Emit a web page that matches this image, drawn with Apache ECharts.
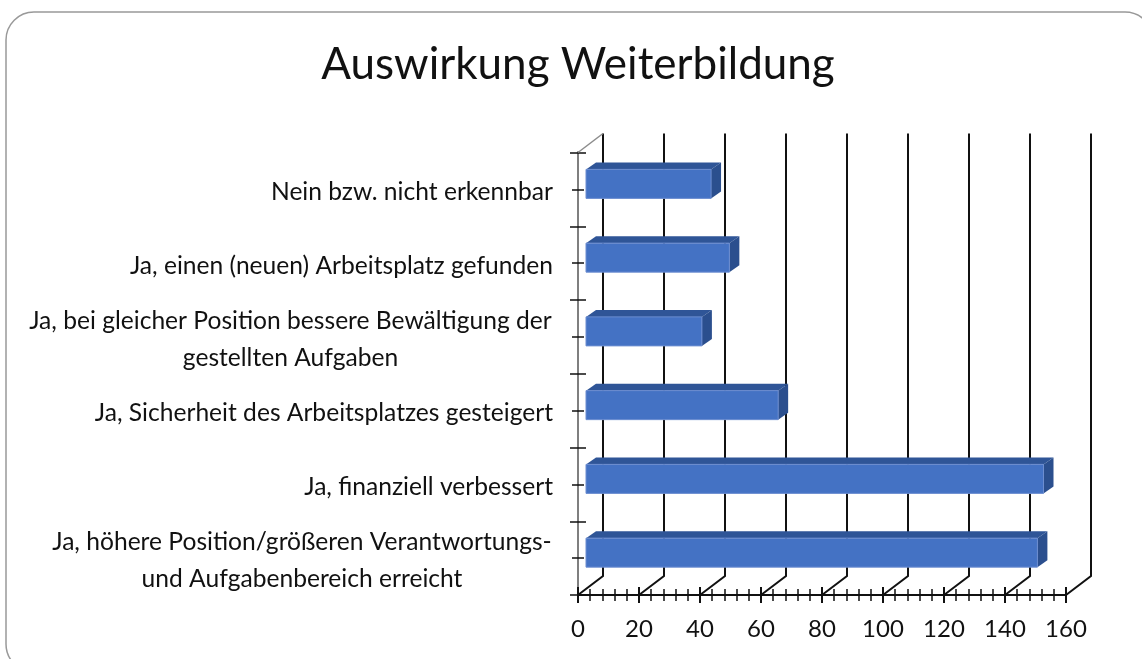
<!DOCTYPE html>
<html>
<head>
<meta charset="utf-8">
<style>
  html, body { margin: 0; padding: 0; background: #fff; }
  #chart { width: 1142px; height: 659px; }
</style>
<script src="https://cdn.jsdelivr.net/npm/echarts@6/dist/echarts.min.js"></script>
</head>
<body>
<div id="chart"></div>
<script>
const categories = [
  "Ja, höhere Position/größeren Verantwortungs-\nund Aufgabenbereich erreicht",
  "Ja, finanziell verbessert",
  "Ja, Sicherheit des Arbeitsplatzes gesteigert",
  "Ja, bei gleicher Position bessere Bewältigung der\ngestellten Aufgaben",
  "Ja, einen (neuen) Arbeitsplatz gefunden",
  "Nein bzw. nicht erkennbar"
];
const values = [148, 150, 63, 38, 47, 41];
const gridValues = [0, 20, 40, 60, 80, 100, 120, 140, 160];

const fontName = "Lato, sans-serif";
const depthX = 25, depthY = 19;

// back wall: diagonal from the floor, then the vertical line
function renderGridLine(params, api) {
  const rect = params.coordSys;
  const value = api.value(0);
  const x = api.coord([value, 0])[0];
  const bottom = rect.y + rect.height;
  const children = [{
    type: "polyline",
    shape: { points: [[x, bottom], [x + depthX, bottom - depthY], [x + depthX, rect.y - depthY]] },
    style: { fill: null, stroke: "#111", lineWidth: 2 }
  }];
  // grey edge of the side wall, only at the origin
  if (value === 0) {
    children.push({
      type: "line",
      shape: { x1: x, y1: rect.y, x2: x + depthX, y2: rect.y - depthY },
      style: { stroke: "#8C8C8C", lineWidth: 1.5 }
    });
  }
  return { type: "group", children: children, silent: true };
}

// box shaped bar: front, top and side faces
function renderBar(params, api) {
  const end = api.coord([api.value(0), api.value(1)]);
  const start = api.coord([0, api.value(1)]);
  const left = start[0] + 8, right = end[0] + 8;
  const top = end[1] - 20, bottom = top + 29;
  const dx = 10, dy = 7;
  return {
    type: "group",
    children: [
      { type: "polygon", shape: { points: [[left, top], [left + dx, top - dy], [right + dx, top - dy], [right, top]] },
        style: { fill: "#2F5597" } },
      { type: "polygon", shape: { points: [[right, top], [right + dx, top - dy], [right + dx, bottom - dy], [right, bottom]] },
        style: { fill: "#2B4F8E" } },
      { type: "rect", shape: { x: left, y: top, width: right - left, height: bottom - top },
        style: { fill: "#4472C4", stroke: "#6C8DD0", lineWidth: 1 } }
    ]
  };
}

const categoryAxis = (extra) => Object.assign({
  type: "category",
  position: "left",
  data: categories,
  axisLine: { show: true, lineStyle: { color: "#7F7F7F", width: 2 } },
  axisLabel: { show: false },
  splitLine: { show: false }
}, extra);

const valueAxis = (extra) => Object.assign({
  type: "value",
  position: "bottom",
  min: 0,
  max: 160,
  interval: 20,
  axisLine: { show: true, lineStyle: { color: "#111", width: 2 } },
  splitLine: { show: false },
  minorSplitLine: { show: false }
}, extra);

// two line labels are centred inside their own block
const labelStyle = { align: "center", fontFamily: fontName, fontSize: 24.6, lineHeight: 37, color: "#111" };

const chart = echarts.init(document.getElementById("chart"), null, { renderer: "canvas" });
chart.setOption({
  animation: false,
  backgroundColor: "#fff",
  title: {
    text: "Auswirkung Weiterbildung",
    left: 573,
    top: 38,
    textAlign: "center",
    textStyle: { fontFamily: fontName, fontSize: 44, fontWeight: "normal", color: "#111" }
  },
  graphic: [{
    type: "rect",
    shape: { x: 6, y: 12, width: 1147, height: 660, r: 28 },
    style: { fill: null, stroke: "#999", lineWidth: 1.5 },
    silent: true
  }],
  grid: { left: 578, right: 76, top: 152.5, height: 442.5 },
  xAxis: [
    valueAxis({
      axisTick: { show: true, length: 8, lineStyle: { color: "#111", width: 2 } },
      minorTick: { show: true, splitNumber: 5, length: 6, lineStyle: { color: "#111", width: 1.5 } },
      axisLabel: { fontFamily: fontName, fontSize: 24, color: "#111", margin: 22 }
    }),
    valueAxis({
      axisTick: { show: true, inside: true, length: 8, lineStyle: { color: "#111", width: 2 } },
      minorTick: { show: true, splitNumber: 5, length: 6, lineStyle: { color: "#111", width: 1.5 } },
      axisLabel: { show: false }
    })
  ],
  yAxis: [
    categoryAxis({
      axisTick: { show: true, length: 8, lineStyle: { color: "#111", width: 1.5 } },
      axisLabel: {
        show: true,
        margin: 25,
        padding: [5, 0, 0, 0],
        fontFamily: fontName,
        fontSize: 24.6,
        lineHeight: 37,
        color: "#111",
        formatter: (v, i) => {
          if (!v.includes("\n")) return v;
          const name = i === 3 ? "long" : "short";
          return v.split("\n").map((s) => "{" + name + "|" + s + "}").join("\n");
        },
        rich: {
          short: Object.assign({ width: 502 }, labelStyle),
          long: Object.assign({ width: 525 }, labelStyle)
        }
      }
    }),
    categoryAxis({
      axisTick: { show: true, inside: true, length: 8, lineStyle: { color: "#111", width: 1.5 } }
    }),
    categoryAxis({
      axisTick: { show: true, alignWithLabel: true, length: 6, lineStyle: { color: "#111", width: 1.5 } }
    }),
    categoryAxis({
      axisTick: { show: true, alignWithLabel: true, inside: true, length: 6, lineStyle: { color: "#111", width: 1.5 } }
    })
  ],
  series: [
    {
      type: "custom",
      data: gridValues.map((v) => [v]),
      encode: { x: 0 },
      renderItem: renderGridLine,
      clip: false,
      silent: true,
      z: 1
    },
    {
      type: "custom",
      data: values.map((v, i) => [v, i]),
      encode: { x: 0, y: 1 },
      renderItem: renderBar,
      clip: false,
      silent: true,
      z: 5
    }
  ]
});
</script>
</body>
</html>
